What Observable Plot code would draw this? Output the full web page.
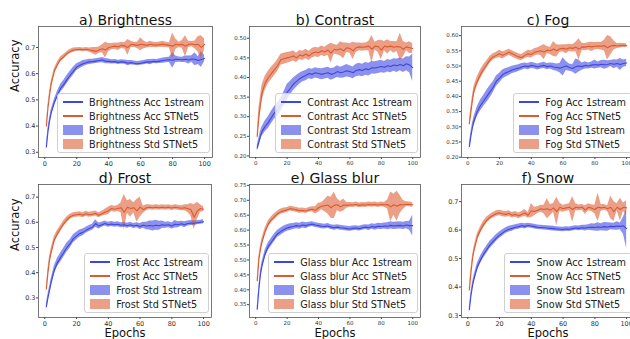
<!DOCTYPE html>
<html>
<head>
<meta charset="utf-8">
<script src="https://cdn.jsdelivr.net/npm/d3@7"></script>
<script src="https://cdn.jsdelivr.net/npm/@observablehq/plot@0.6"></script>
<style>
  html, body { margin: 0; padding: 0; background: #fff; }
  #chart { position: relative; width: 630px; height: 339px; overflow: hidden; background: #fff; font-family: "DejaVu Sans", sans-serif; }
  .panel { position: absolute; }
  .panel svg { display: block; overflow: visible; }
  .legend { position: absolute; background: rgba(255,255,255,0.8); border: 1px solid #d0d0d0; border-radius: 3px; padding: 1px 5px 1px 5px; font-size: 9.7px; color: #222; }
  .legend .row { display: flex; align-items: center; height: 14px; white-space: nowrap; }
  .legend .sw { width: 20px; margin-right: 6px; flex: none; }
  .legend .ln { height: 1.4px; }
  .legend .pt { height: 10px; }
</style>
</head>
<body>
<div id="chart"></div>
<script>
// ---------- data ----------
const epochs = [1,2,3,4,6,8,10,12,14,16,18,20,22,24,26,28,30,32,34,36,38,40,42,44,46,48,50,52,54,56,58,60,62,64,66,68,70,72,74,76,78,80,82,84,86,88,90,92,94,96,98,100];
const xTicks = [0, 20, 40, 60, 80, 100];

const brightAcc1 = [.32,.38,.42,.45,.49,.52,.545,.56,.578,.595,.61,.625,.632,.638,.642,.645,.646,.648,.65,.652,.648,.647,.645,.646,.643,.645,.644,.64,.642,.64,.638,.64,.642,.645,.644,.647,.646,.648,.65,.652,.653,.651,.655,.654,.653,.655,.652,.656,.655,.65,.654,.658];
const brightStd1 = [.012,.012,.012,.012,.012,.014,.015,.016,.016,.015,.015,.013,.012,.012,.01,.01,.009,.009,.009,.01,.01,.009,.008,.008,.008,.008,.008,.01,.008,.008,.008,.008,.008,.008,.01,.008,.008,.009,.01,.01,.01,.03,.012,.01,.01,.012,.015,.012,.025,.015,.03,.012];
const brightAccST = [.40,.47,.52,.56,.61,.635,.655,.665,.677,.685,.69,.692,.693,.691,.693,.69,.688,.685,.69,.695,.69,.70,.703,.705,.702,.708,.706,.70,.712,.71,.708,.712,.71,.708,.712,.71,.709,.711,.712,.71,.708,.705,.712,.71,.712,.705,.712,.713,.71,.712,.70,.712];
const brightStdST = [.01,.012,.012,.012,.01,.01,.01,.009,.008,.008,.008,.007,.007,.007,.007,.008,.012,.015,.012,.015,.03,.015,.012,.012,.014,.012,.012,.03,.012,.01,.012,.025,.015,.01,.012,.01,.01,.01,.012,.01,.01,.05,.02,.01,.015,.04,.012,.01,.015,.03,.045,.02];

const contrastAcc1 = [.22,.235,.25,.262,.275,.285,.298,.31,.318,.33,.345,.362,.372,.383,.39,.397,.402,.405,.41,.408,.412,.41,.408,.41,.412,.408,.41,.415,.412,.414,.417,.415,.412,.418,.42,.418,.422,.42,.425,.424,.426,.428,.426,.43,.428,.432,.43,.433,.43,.435,.432,.425];
const contrastStd1 = [.008,.01,.012,.012,.014,.015,.016,.016,.017,.018,.018,.02,.018,.016,.015,.014,.013,.013,.013,.013,.013,.013,.014,.014,.014,.015,.014,.015,.014,.015,.016,.015,.015,.016,.016,.016,.016,.016,.016,.016,.016,.016,.015,.016,.016,.016,.017,.016,.017,.018,.02,.035];
const contrastAccST = [.25,.30,.33,.36,.385,.40,.41,.42,.43,.445,.448,.45,.452,.455,.45,.457,.455,.46,.455,.462,.465,.463,.468,.465,.47,.462,.472,.47,.473,.468,.476,.474,.468,.476,.478,.477,.478,.48,.472,.48,.479,.47,.48,.478,.48,.477,.479,.478,.472,.478,.476,.474];
const contrastStdST = [.01,.02,.02,.02,.018,.016,.016,.015,.015,.014,.014,.014,.013,.013,.012,.012,.012,.012,.012,.012,.012,.012,.012,.012,.013,.025,.012,.012,.018,.02,.012,.012,.022,.012,.01,.01,.01,.012,.035,.01,.015,.025,.012,.018,.012,.015,.012,.035,.02,.01,.015,.012];

const fogAcc1 = [.235,.27,.30,.32,.35,.37,.385,.40,.415,.43,.45,.46,.472,.478,.482,.487,.49,.493,.497,.50,.498,.502,.50,.497,.50,.502,.498,.50,.497,.495,.493,.497,.50,.495,.492,.498,.50,.498,.502,.50,.503,.505,.503,.506,.504,.505,.508,.506,.508,.505,.508,.51];
const fogStd1 = [.01,.012,.013,.015,.016,.018,.018,.02,.02,.018,.017,.016,.015,.014,.013,.012,.012,.011,.011,.01,.01,.01,.01,.01,.01,.01,.01,.01,.012,.012,.015,.03,.015,.012,.012,.025,.02,.012,.012,.01,.01,.015,.01,.012,.015,.012,.01,.015,.012,.02,.012,.012];
const fogAccST = [.31,.35,.39,.42,.45,.472,.49,.505,.52,.53,.535,.54,.535,.54,.545,.54,.535,.53,.528,.535,.54,.538,.545,.548,.55,.546,.552,.55,.556,.55,.557,.558,.555,.56,.558,.562,.555,.563,.562,.565,.563,.565,.566,.565,.567,.56,.566,.568,.566,.567,.568,.567];
const fogStdST = [.01,.015,.015,.015,.015,.015,.014,.012,.012,.01,.01,.012,.012,.01,.01,.01,.01,.01,.01,.01,.012,.012,.012,.012,.015,.025,.012,.012,.025,.02,.012,.012,.015,.012,.012,.015,.035,.012,.012,.012,.015,.012,.012,.012,.018,.04,.03,.015,.008,.008,.006,.006];

const frostAcc1 = [.265,.30,.33,.36,.41,.44,.46,.48,.50,.515,.535,.545,.555,.56,.568,.575,.58,.595,.585,.59,.595,.59,.593,.59,.592,.588,.59,.586,.59,.585,.588,.583,.588,.585,.587,.585,.588,.586,.59,.588,.59,.585,.592,.59,.594,.59,.595,.597,.596,.598,.60,.602];
const frostStd1 = [.012,.013,.014,.015,.016,.017,.018,.018,.018,.017,.016,.015,.014,.013,.012,.012,.012,.015,.012,.01,.01,.01,.01,.01,.01,.01,.01,.01,.01,.01,.01,.012,.012,.015,.018,.02,.02,.018,.015,.012,.012,.012,.015,.012,.01,.012,.01,.01,.01,.008,.008,.008];
const frostAccST = [.335,.40,.45,.48,.53,.555,.575,.595,.61,.622,.628,.63,.632,.628,.634,.63,.632,.635,.628,.634,.64,.645,.655,.652,.655,.658,.64,.66,.655,.658,.645,.66,.65,.658,.66,.658,.66,.658,.66,.658,.66,.657,.66,.658,.656,.658,.655,.65,.62,.645,.655,.652];
const frostStdST = [.01,.015,.015,.015,.014,.013,.012,.012,.012,.01,.01,.01,.01,.01,.01,.01,.01,.01,.01,.01,.012,.015,.012,.012,.012,.02,.07,.025,.035,.02,.045,.04,.015,.012,.01,.01,.01,.01,.01,.01,.01,.01,.01,.01,.01,.012,.015,.025,.05,.035,.015,.01];

const glassAcc1 = [.335,.40,.45,.48,.52,.545,.56,.575,.588,.595,.602,.607,.61,.612,.615,.613,.617,.615,.618,.62,.617,.615,.613,.612,.614,.61,.608,.61,.608,.607,.605,.604,.606,.607,.605,.608,.61,.608,.612,.61,.613,.612,.614,.613,.616,.614,.615,.616,.614,.617,.615,.615];
const glassStd1 = [.01,.01,.012,.012,.013,.013,.013,.013,.012,.012,.012,.011,.011,.01,.01,.01,.01,.01,.008,.008,.008,.008,.008,.008,.008,.008,.008,.008,.008,.008,.008,.008,.008,.008,.008,.008,.008,.009,.009,.01,.01,.01,.01,.012,.012,.012,.012,.012,.012,.012,.015,.035];
const glassAccST = [.43,.50,.535,.56,.595,.62,.635,.645,.655,.662,.665,.668,.672,.67,.668,.665,.666,.664,.668,.67,.666,.675,.68,.682,.684,.675,.683,.685,.678,.684,.683,.685,.684,.686,.683,.685,.684,.686,.685,.686,.684,.686,.685,.686,.678,.685,.68,.686,.684,.687,.686,.685];
const glassStdST = [.01,.012,.012,.012,.012,.011,.01,.01,.009,.009,.009,.008,.008,.008,.008,.008,.008,.008,.008,.008,.012,.015,.012,.02,.03,.035,.045,.02,.018,.02,.01,.008,.008,.008,.008,.008,.008,.008,.008,.008,.008,.008,.008,.015,.05,.035,.05,.03,.015,.008,.008,.008];

const snowAcc1 = [.32,.37,.405,.43,.47,.495,.515,.532,.548,.56,.572,.582,.59,.598,.603,.606,.61,.612,.615,.613,.616,.614,.612,.61,.609,.608,.607,.606,.605,.604,.603,.602,.604,.603,.605,.607,.606,.608,.607,.609,.61,.609,.611,.61,.612,.611,.613,.612,.614,.613,.615,.605];
const snowStd1 = [.01,.011,.012,.012,.013,.013,.013,.013,.013,.012,.012,.011,.011,.01,.01,.01,.009,.009,.009,.009,.008,.008,.008,.008,.008,.008,.008,.008,.008,.008,.008,.008,.008,.008,.008,.008,.008,.009,.01,.01,.012,.012,.015,.012,.015,.015,.012,.012,.015,.012,.03,.07];
const snowAccST = [.39,.45,.50,.53,.575,.60,.62,.635,.645,.652,.658,.66,.657,.655,.658,.652,.655,.65,.655,.66,.652,.668,.665,.67,.675,.672,.675,.67,.678,.665,.68,.675,.678,.68,.672,.68,.678,.68,.67,.68,.677,.672,.68,.678,.68,.675,.68,.665,.68,.672,.68,.678];
const snowStdST = [.01,.012,.012,.012,.012,.012,.012,.011,.01,.01,.01,.01,.01,.01,.01,.01,.01,.01,.01,.012,.01,.025,.015,.012,.012,.015,.035,.02,.015,.05,.015,.012,.012,.012,.045,.012,.01,.01,.015,.012,.012,.015,.05,.012,.01,.01,.04,.035,.012,.04,.015,.025];

const ticksTenth = [0.3, 0.4, 0.5, 0.6, 0.7];
const ticksContrast = [0.20, 0.25, 0.30, 0.35, 0.40, 0.45, 0.50];
const ticksFog = [0.20, 0.25, 0.30, 0.35, 0.40, 0.45, 0.50, 0.55, 0.60];
const ticksGlass = [0.35, 0.40, 0.45, 0.50, 0.55, 0.60, 0.65, 0.70, 0.75];

// ---------- styling / layout ----------
const BLUE = "#3d47e0";
const ORANGE = "#dc5a2e";

const panels = [
  {name: "Brightness", title: "a) Brightness", acc1: brightAcc1, std1: brightStd1, accST: brightAccST, stdST: brightStdST,
   yDomain: [0.28, 0.78], yTicks: ticksTenth, fmt: ".1f", font: 6.5, ylab: true, xlab: false,
   left: 0, top: 0, w: 214, h: 170, ml: 38, mr: 2, mt: 26, mb: 13},
  {name: "Contrast", title: "b) Contrast", acc1: contrastAcc1, std1: contrastStd1, accST: contrastAccST, stdST: contrastStdST,
   yDomain: [0.196, 0.53], yTicks: ticksContrast, fmt: ".2f", font: 5.5, ylab: false, xlab: false,
   left: 214, top: 0, w: 208, h: 170, ml: 35, mr: 2, mt: 26, mb: 13},
  {name: "Fog", title: "c) Fog", acc1: fogAcc1, std1: fogStd1, accST: fogAccST, stdST: fogStdST,
   yDomain: [0.199, 0.63], yTicks: ticksFog, fmt: ".2f", font: 5.5, ylab: false, xlab: false,
   left: 422, top: 0, w: 213, h: 170, ml: 39, mr: 1, mt: 26, mb: 13},
  {name: "Frost", title: "d) Frost", acc1: frostAcc1, std1: frostStd1, accST: frostAccST, stdST: frostStdST,
   yDomain: [0.222, 0.75], yTicks: ticksTenth, fmt: ".1f", font: 6.5, ylab: true, xlab: true,
   left: 0, top: 170, w: 214, h: 169, ml: 38, mr: 3, mt: 14, mb: 22},
  {name: "Glass blur", title: "e) Glass blur", acc1: glassAcc1, std1: glassStd1, accST: glassAccST, stdST: glassStdST,
   yDomain: [0.307, 0.753], yTicks: ticksGlass, fmt: ".2f", font: 5.5, ylab: false, xlab: true,
   left: 214, top: 170, w: 208, h: 169, ml: 35, mr: 2, mt: 14, mb: 22},
  {name: "Snow", title: "f) Snow", acc1: snowAcc1, std1: snowStd1, accST: snowAccST, stdST: snowStdST,
   yDomain: [0.293, 0.76], yTicks: ticksTenth, fmt: ".1f", font: 6.5, ylab: false, xlab: true,
   left: 422, top: 170, w: 213, h: 169, ml: 39, mr: 1, mt: 14, mb: 22}
];

const chart = document.getElementById("chart");

for (const p of panels) {
  const rows1 = epochs.map((e, i) => ({epoch: e, acc: p.acc1[i], std: p.std1[i]}));
  const rowsS = epochs.map((e, i) => ({epoch: e, acc: p.accST[i], std: p.stdST[i]}));
  const marks = [
    Plot.area(rows1, {x1: "epoch", y1: d => d.acc - d.std, y2: d => d.acc + d.std, fill: BLUE, fillOpacity: 0.6, clip: true}),
    Plot.area(rowsS, {x1: "epoch", y1: d => d.acc - d.std, y2: d => d.acc + d.std, fill: ORANGE, fillOpacity: 0.58, clip: true}),
    Plot.line(rows1, {x: "epoch", y: "acc", stroke: BLUE, strokeWidth: 1.1, clip: true}),
    Plot.line(rowsS, {x: "epoch", y: "acc", stroke: ORANGE, strokeWidth: 1.1, clip: true}),
    Plot.axisX({ticks: xTicks, tickSize: 2, tickPadding: 1.5, label: null, fontSize: p.font, stroke: "#444", fill: "#333"}),
    Plot.axisY({ticks: p.yTicks, tickFormat: d3.format(p.fmt), tickSize: 2, tickPadding: 1, label: null, fontSize: p.font, stroke: "#444", fill: "#333"}),
    Plot.frame({stroke: "#555", strokeWidth: 0.8}),
    Plot.text([p.title], {text: d => d, frameAnchor: "top", lineAnchor: "bottom", dy: -2, fontSize: 14, fill: "#111"})
  ];
  if (p.ylab) marks.push(Plot.text(["Accuracy"], {text: d => d, frameAnchor: "left", rotate: -90, dx: -23, fontSize: 11.5, fill: "#111"}));
  if (p.xlab) marks.push(Plot.text(["Epochs"], {text: d => d, frameAnchor: "bottom", lineAnchor: "middle", dy: 16, fontSize: 11.5, fill: "#111"}));

  const svg = Plot.plot({
    width: p.w, height: p.h,
    marginLeft: p.ml, marginRight: p.mr, marginTop: p.mt, marginBottom: p.mb,
    style: {fontFamily: "DejaVu Sans, sans-serif", fontSize: p.font + "px", background: "transparent", overflow: "visible"},
    x: {domain: [-3.95, 104.95]},
    y: {domain: p.yDomain},
    marks
  });

  const wrap = document.createElement("div");
  wrap.className = "panel";
  wrap.style.left = p.left + "px";
  wrap.style.top = p.top + "px";
  wrap.style.width = p.w + "px";
  wrap.style.height = p.h + "px";
  wrap.appendChild(svg);

  const lg = document.createElement("div");
  lg.className = "legend";
  lg.style.right = (p.mr + 2) + "px";
  lg.style.bottom = (p.mb + 4) + "px";
  const entries = [
    {label: p.name + " Acc 1stream", color: BLUE, kind: "ln"},
    {label: p.name + " Acc STNet5", color: ORANGE, kind: "ln"},
    {label: p.name + " Std 1stream", color: BLUE, kind: "pt"},
    {label: p.name + " Std STNet5", color: ORANGE, kind: "pt"}
  ];
  for (const e of entries) {
    const row = document.createElement("div");
    row.className = "row";
    const sw = document.createElement("div");
    sw.className = "sw " + e.kind;
    sw.style.background = e.color;
    if (e.kind === "pt") sw.style.opacity = e.color === BLUE ? 0.6 : 0.58;
    const t = document.createElement("span");
    t.textContent = e.label;
    row.appendChild(sw);
    row.appendChild(t);
    lg.appendChild(row);
  }
  wrap.appendChild(lg);
  chart.appendChild(wrap);
}
</script>
</body>
</html>
